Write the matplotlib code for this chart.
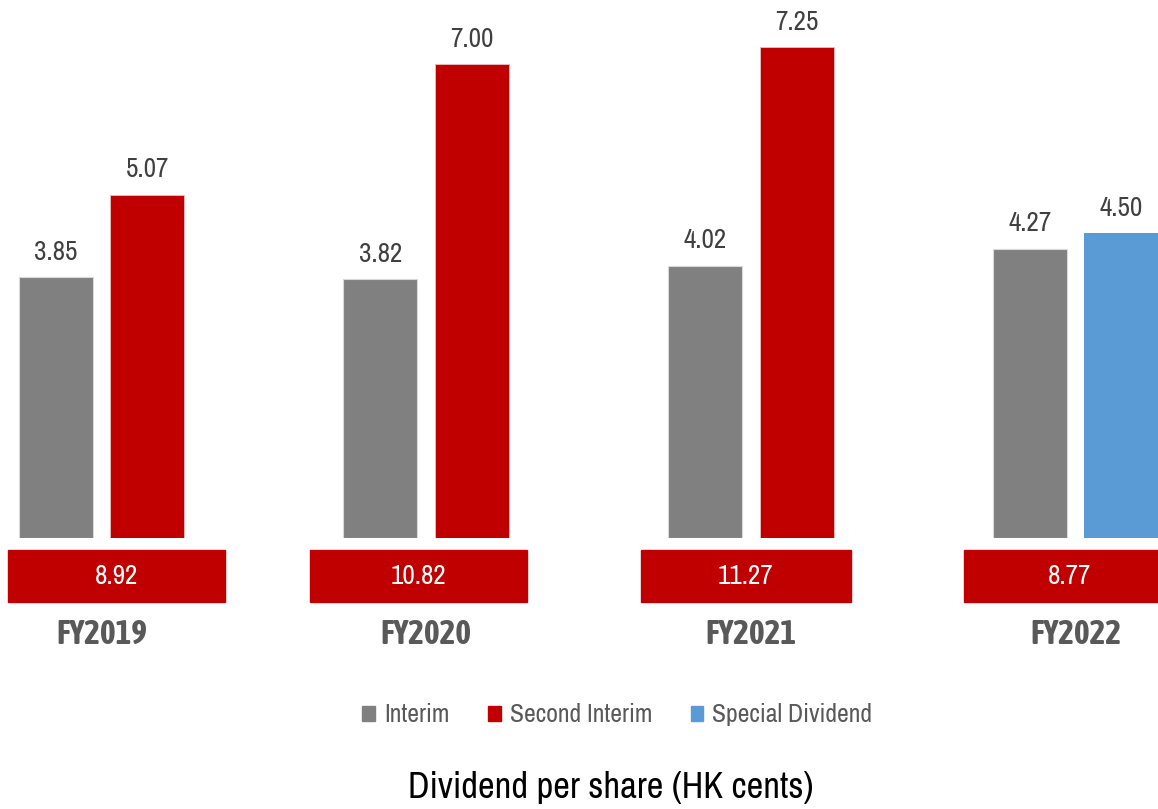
import numpy as np
import matplotlib.pyplot as plt
from matplotlib.patches import Rectangle, Patch
import matplotlib.transforms as mtransforms

# dividend per share, HK cents
years = ['FY2019', 'FY2020', 'FY2021', 'FY2022']
interim = [3.85, 3.82, 4.02, 4.27]
second_interim = [5.07, 7.00, 7.25, np.nan]
special = [np.nan, np.nan, np.nan, 4.50]
totals = [8.92, 10.82, 11.27, 8.77]

GREY = '#808080'
RED = '#C00000'
BLUE = '#5B9BD5'
TXT = '#404040'
FONT = ['Liberation Sans Narrow', 'Archivo Narrow', 'Liberation Sans', 'DejaVu Sans']
BOLD_FONT = ['Liberation Sans Narrow', 'Asap Condensed', 'Liberation Sans', 'DejaVu Sans']

plt.rcParams['font.family'] = FONT

fig = plt.figure(figsize=(11.58, 8.09), dpi=100)
W, H = 1158, 809
base_px = 538
ax = fig.add_axes([0, 1 - base_px / H, 1, base_px / H])
ax.set_xlim(-0.3126, 3.2538)
ax.set_ylim(0, base_px / 67.7)
ax.axis('off')

x = np.arange(len(years))
off = 0.141
bw = 0.228

b1 = ax.bar(x - off, interim, bw, color=GREY, edgecolor='#d9d9d9', linewidth=0.8)
b2 = ax.bar(x + off, second_interim, bw, color=RED, edgecolor='#e8c0c0', linewidth=0.6)
b3 = ax.bar(x + off, special, bw, color=BLUE, linewidth=0)

for bars in (b1, b2, b3):
    for r in bars:
        h = r.get_height()
        if np.isnan(h):
            continue
        ax.annotate(f'{h:.2f}', (r.get_x() + r.get_width() / 2, h),
                    xytext=(0, 9), textcoords='offset points',
                    ha='center', va='bottom', fontsize=19.5, color=TXT)

# total boxes + year labels below the bars
trans = mtransforms.blended_transform_factory(ax.transData, fig.transFigure)
box_shift = [0.046, -0.023, -0.015, -0.020]
box_w = [0.668, 0.668, 0.645, 0.648]
y0 = 1 - 602 / H
y1 = 1 - 550 / H
for i, t in enumerate(totals):
    cx = x[i] + box_shift[i]
    fig.patches.append(Rectangle((cx - box_w[i] / 2, y0), box_w[i], y1 - y0,
                                 transform=trans, color=RED, clip_on=False))
    fig.text(cx, (y0 + y1) / 2, f'{t:.2f}', transform=trans, ha='center',
             va='center', fontsize=19.5, color='white')
    fig.text(x[i], 1 - 634 / H, years[i], transform=trans,
             ha='center', va='center', fontsize=24, fontweight='bold', color='#595959',
             family=BOLD_FONT)

handles = [Patch(color=GREY, label='Interim'),
           Patch(color=RED, label='Second Interim'),
           Patch(color=BLUE, label='Special Dividend')]
leg = fig.legend(handles=handles, loc='center', bbox_to_anchor=(0.533, 1 - 715 / H),
                 ncol=3, frameon=False, fontsize=18.5, handlelength=0.5, handleheight=0.5,
                 handletextpad=0.35, columnspacing=1.5)
for t in leg.get_texts():
    t.set_color('#595959')

fig.text(0.5276, 1 - 788 / H, 'Dividend per share (HK cents)', ha='center', va='center',
         fontsize=26.3, color='black')

fig.savefig('out.png', dpi=100)
